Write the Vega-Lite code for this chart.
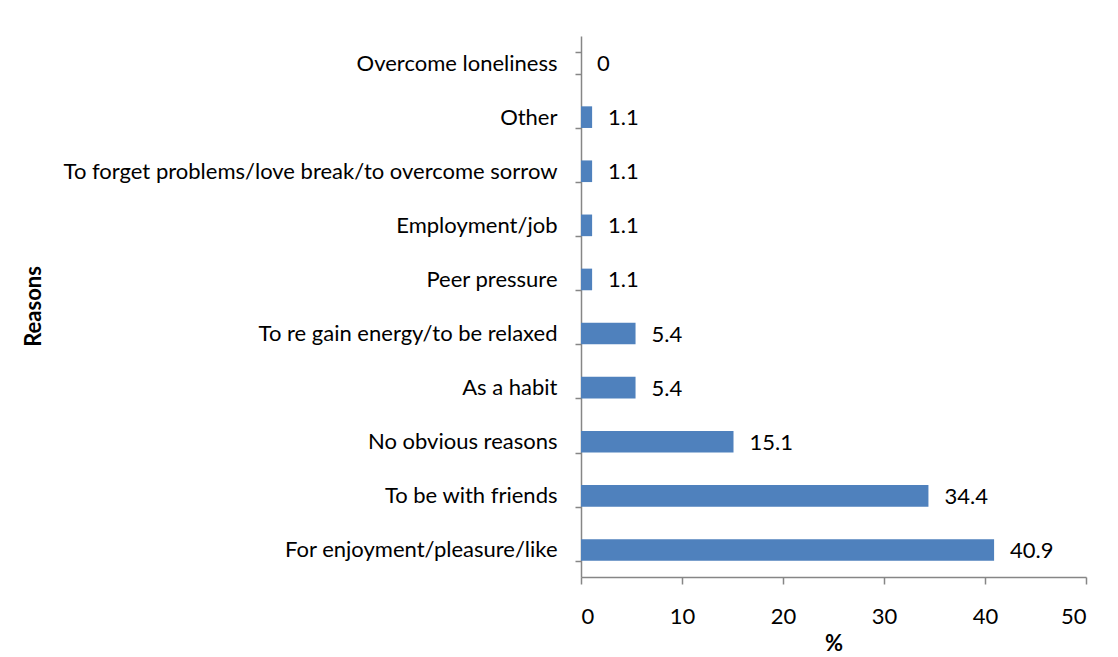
{
  "$schema": "https://vega.github.io/schema/vega-lite/v6.json",
  "autosize": {"type": "none"},
  "width": 505,
  "height": 541,
  "padding": {"left": 581, "top": 36, "right": 32, "bottom": 80},
  "background": "white",
  "config": {
    "font": "Lato",
    "view": {"stroke": null},
    "axis": {"grid": false, "domainColor": "#868686", "tickColor": "#868686", "domainWidth": 1.5, "tickWidth": 1.5, "labelColor": "#000000", "titleColor": "#000000", "labelFont": "Lato", "titleFont": "Lato"}
  },
  "data": {"values": [
    {"reason": "Overcome loneliness", "pct": 0},
    {"reason": "Other", "pct": 1.1},
    {"reason": "To forget problems/love break/to overcome sorrow", "pct": 1.1},
    {"reason": "Employment/job", "pct": 1.1},
    {"reason": "Peer pressure", "pct": 1.1},
    {"reason": "To re gain energy/to be relaxed", "pct": 5.4},
    {"reason": "As a habit", "pct": 5.4},
    {"reason": "No obvious reasons", "pct": 15.1},
    {"reason": "To be with friends", "pct": 34.4},
    {"reason": "For enjoyment/pleasure/like", "pct": 40.9}
  ]},
  "encoding": {
    "y": {"field": "reason", "type": "nominal", "sort": null,
      "scale": {"paddingInner": 0.6, "paddingOuter": 0.3},
      "axis": {"title": "Reasons", "labelFontSize": 22, "labelPadding": 18, "tickSize": 6, "tickBand": "extent",
        "titleFontSize": 22, "titleFontWeight": "bold", "titleX": -548, "titleY": 270, "titleAngle": 270, "titleAlign": "center", "titleBaseline": "middle", "labelLimit": 700}},
    "x": {"field": "pct", "type": "quantitative", "scale": {"domain": [0, 50]},
      "axis": {"title": "%", "values": [0, 10, 20, 30, 40, 50], "labelFontSize": 22, "labelPadding": 22, "tickSize": 7, "titleFontSize": 22, "titleFontWeight": "bold", "titleY": 66, "titleBaseline": "middle"}}
  },
  "layer": [
    {"mark": {"type": "bar", "color": "#4F81BD"}},
    {"mark": {"type": "text", "align": "left", "baseline": "middle", "dx": 16, "dy": 1, "fontSize": 22, "font": "Lato", "color": "#000000"},
      "encoding": {"text": {"field": "pct", "type": "quantitative"}}}
  ]
}
